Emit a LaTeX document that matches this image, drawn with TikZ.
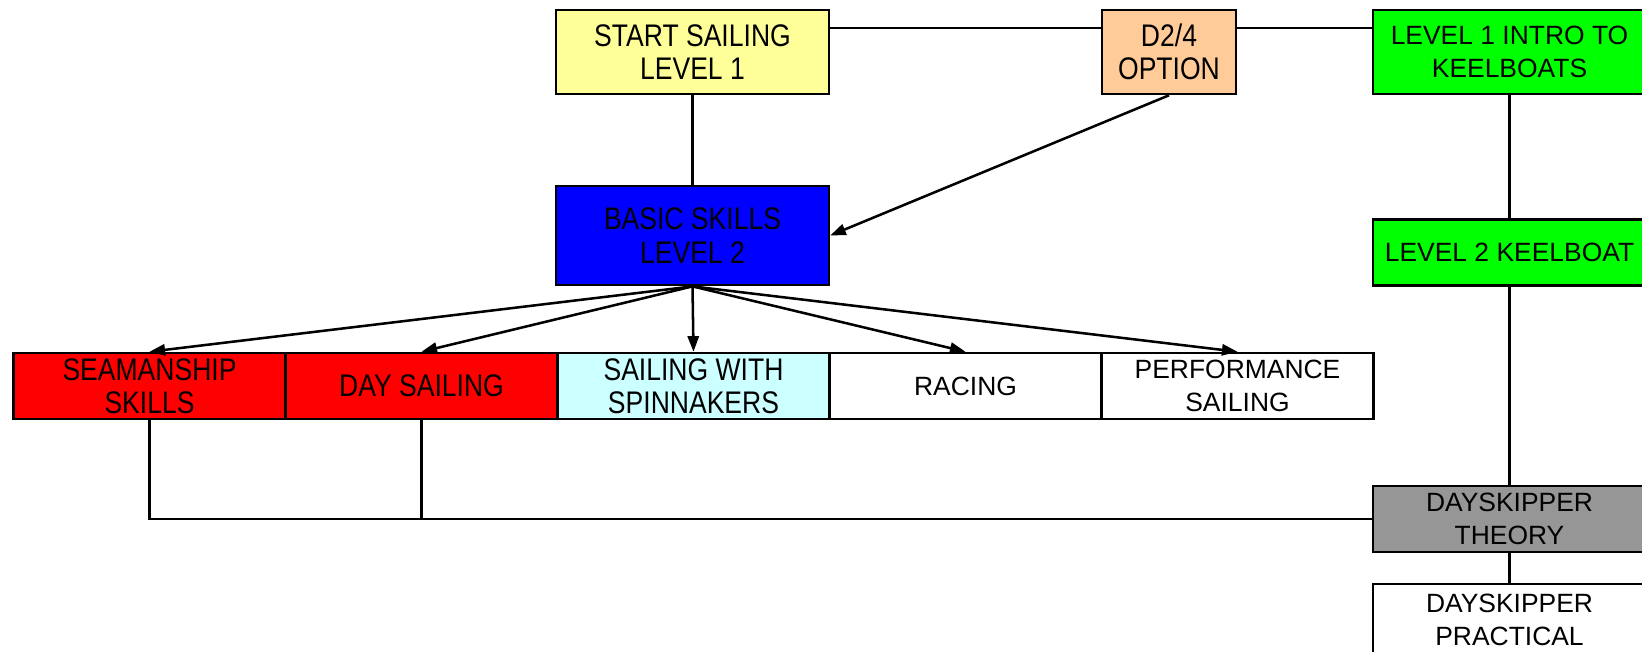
\documentclass[tikz,border=0pt]{standalone}
\usepackage{fontspec}
\setmainfont{Liberation Sans}
\newfontfamily\tallfont[FakeStretch=0.85]{Liberation Sans}
\usetikzlibrary{arrows.meta}
\definecolor{startyel}{HTML}{FFFF99}
\definecolor{optorange}{HTML}{FFCC99}
\definecolor{keelgreen}{HTML}{00FF00}
\definecolor{basicblue}{HTML}{0000FF}
\definecolor{skillred}{HTML}{FF0000}
\definecolor{spincyan}{HTML}{CCFFFF}
\definecolor{theorygray}{HTML}{969696}
\begin{document}
\begin{tikzpicture}[x=0.025cm,y=-0.025cm,>={Triangle[length=3.9mm,width=2.8mm]},line width=1.8pt,
    box/.style={draw,align=center,inner sep=0pt,minimum width=6.82cm,minimum height=2.1cm,font=\tallfont\fontsize{22.2}{23.8}\selectfont},
    row/.style={box,minimum width=6.8cm,minimum height=1.65cm},
    plain/.style={font=\fontsize{18.8}{23}\selectfont}]
    \clip (0,0) rectangle (1642,651);
    \node[box,fill=startyel](start)at(692.5,52){START SAILING\\LEVEL 1};
    \node[box,fill=optorange,minimum width=3.35cm](opt)at(1169,52){D2/4\\OPTION};
    \node[box,plain,fill=keelgreen](kb1)at(1509.5,52){LEVEL 1 INTRO TO\\KEELBOATS};
    \node[box,fill=basicblue,minimum height=2.48cm](basic)at(692.5,235.5){BASIC SKILLS\\LEVEL 2};
    \node[row,plain,fill=keelgreen,minimum width=6.82cm](kb2)at(1509.5,252.5){LEVEL 2 KEELBOAT};
    \node[row,fill=skillred](seam)at(149.5,386){SEAMANSHIP\\SKILLS};
    \node[row,fill=skillred](day)at(421.5,386){DAY SAILING};
    \node[row,fill=spincyan](spin)at(693.5,386){SAILING WITH\\SPINNAKERS};
    \node[row,plain](race)at(965.5,386){RACING};
    \node[row,plain](perf)at(1237.5,386){PERFORMANCE\\SAILING};
    \node[row,plain,fill=theorygray,minimum width=6.82cm](dst)at(1509.5,519){DAYSKIPPER\\THEORY};
    \node[row,plain,minimum width=6.82cm,minimum height=1.8cm](dsp)at(1509.5,620){DAYSKIPPER\\PRACTICAL};
    \draw([yshift=0.6cm]start.east)--([yshift=0.6cm]opt.west)([yshift=0.6cm]opt.east)--([yshift=0.6cm]kb1.west);
    \draw(start)--(basic)(kb1)--(kb2)--(dst)--(dsp);
    \draw[->](opt.south)--(basic.east);
    \foreach \n in {seam,day,spin,race,perf}\draw[->](basic.south)--(\n.north);
    \draw(seam.south)|-(dst.west)(day.south)--(day.south|-dst.west);
\end{tikzpicture}
\end{document}
